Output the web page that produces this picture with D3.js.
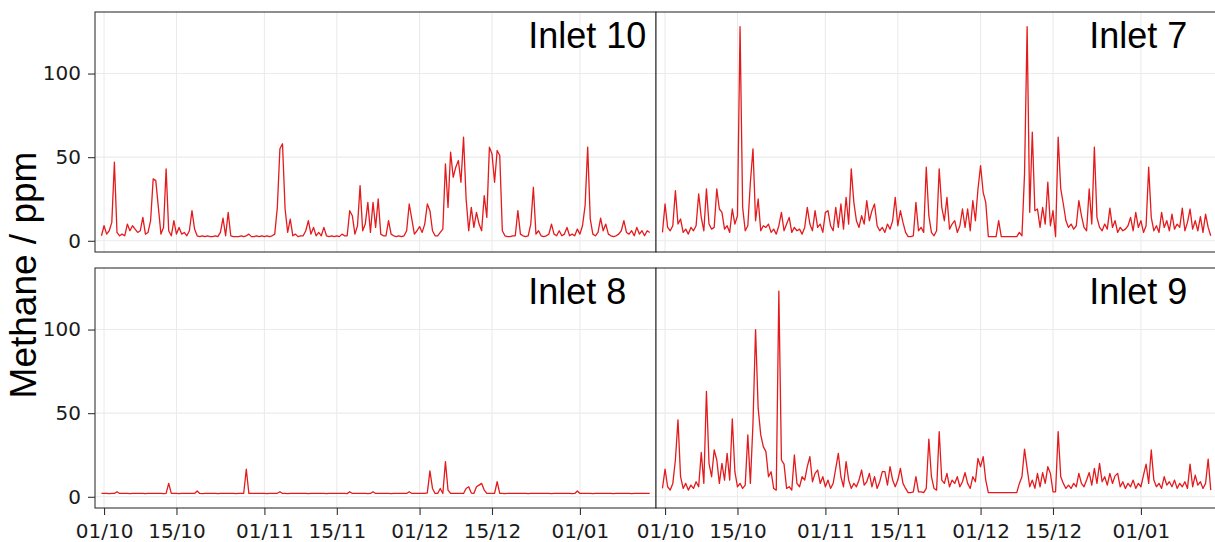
<!DOCTYPE html>
<html>
<head>
<meta charset="utf-8">
<script src="https://cdn.jsdelivr.net/npm/d3@7"></script>
<style>
  body { margin: 0; background: #fff; }
  svg { display: block; }
</style>
</head>
<body>
<div id="chart"></div>
<script>
// readings every 12 h, starting 30/09 12:00
const startTime = Date.UTC(2019, 8, 30, 12)
const stepHours = 12

const inlet10 = [
  3, 9, 4, 6, 11, 47, 5, 3, 4, 3,
  10, 6, 9, 7, 5, 6, 14, 4, 5, 12,
  37, 36, 20, 4, 8, 43, 6, 3, 12, 4,
  8, 4, 5, 3, 6, 18, 7, 3, 2.5, 3,
  2.5, 3, 2.5, 2.5, 3, 2.5, 5, 13.6, 3, 17,
  3, 2.5, 2.5, 2.5, 3, 2.5, 3, 4, 2.5, 2.5,
  3, 2.5, 3, 2.5, 3, 2.5, 3, 4, 20, 55,
  58, 19, 5, 13, 3, 4, 2.5, 3, 3, 6,
  12, 4, 8, 3, 5, 3, 8, 3, 2.5, 3,
  2.5, 3, 2.5, 4, 3, 3, 18, 15, 4, 9,
  33, 6, 10, 23, 5, 23, 8, 25, 4, 3,
  3, 12, 4, 3, 2.5, 3, 2.5, 3, 6, 22,
  13, 4, 6, 8.5, 5, 10, 22, 18, 6, 3,
  3, 5, 7, 46, 20, 53, 38, 44, 48, 35,
  62, 25, 6, 20, 8, 17, 10, 6, 27, 14,
  56, 52, 35, 54, 51, 6, 3, 2.5, 2.5, 3,
  3, 18, 4, 3, 2.5, 3, 10, 32, 4, 6,
  3, 2.5, 3, 4, 10, 4, 3, 6, 3, 4,
  8, 3, 4, 3, 7, 4, 9, 21, 56, 13,
  4, 3, 5, 13.5, 6, 10, 4, 3, 2.5, 3,
  4, 6, 12, 5, 4, 6, 3, 8, 4, 6,
  3, 6, 5
]

const inlet7 = [
  5, 22, 8, 6, 9, 30, 10, 13, 5, 7,
  4, 8, 6, 9, 28, 14, 6, 31, 10, 7,
  8, 31, 19, 17, 7, 9, 5, 19, 10, 15,
  128, 20, 6, 9, 35, 55, 12, 25, 6, 9,
  8, 10, 5, 7, 4, 9, 17, 6, 10, 14,
  5, 8, 6, 7, 4, 8, 20, 10, 6, 18,
  8, 10, 5, 17, 18, 9, 6, 20, 8, 22,
  7, 26, 10, 43, 23, 12, 8, 15, 10, 24,
  12, 18, 22, 9, 6, 8, 5, 10, 7, 12,
  26, 9, 18, 11, 5, 2.5, 2.5, 3, 23, 6,
  8, 5, 44, 15, 5, 3, 6, 43, 20, 12,
  26, 7, 10, 12, 5, 9, 19, 8, 19, 6,
  24, 12, 31, 45, 29, 23, 2.5, 2.5, 2.5, 2.5,
  12, 2.5, 2.5, 2.5, 2.5, 2.5, 2.5, 2.5, 5, 3,
  40, 128, 17, 65, 18, 19, 8, 20, 10, 35,
  9, 18, 2.5, 62, 31, 22, 12, 8, 10, 7,
  9, 24, 15, 8, 6, 31, 10, 56, 14, 8,
  6, 10, 7, 19.5, 8, 12, 5, 8, 6, 7,
  9, 14, 6, 17, 8, 12, 5, 9, 44, 14,
  6, 9, 5, 17, 8, 12, 6, 16, 7, 10,
  8, 19.5, 6, 11, 19, 7, 12, 6, 14.5, 5,
  16, 8, 3
]

const inlet8 = [
  2, 2.1, 2, 1.9, 2, 2, 3, 2, 2.1, 2,
  2, 1.9, 2, 2, 2.1, 2, 2, 1.9, 2, 2,
  2, 2, 2.1, 2, 1.9, 2, 8, 2, 2, 2,
  1.9, 2, 2, 2.1, 2, 2, 2, 3.5, 2, 1.9,
  2, 2, 2.1, 2, 2, 1.9, 2, 2, 2, 2.1,
  2, 2, 1.9, 2, 2, 2.1, 16.5, 2, 2, 2,
  2, 2.1, 2, 2, 1.9, 2, 2, 2, 2.1, 3,
  2, 2, 1.9, 2, 2, 2, 2.1, 2, 2, 2,
  1.9, 2, 2, 2, 2.1, 2, 2, 1.9, 2, 2,
  2, 2.1, 2, 2, 2, 1.9, 3, 2, 2, 2.1,
  2, 2, 2, 1.9, 2, 3, 2, 2, 2.1, 2,
  2, 2, 1.9, 2, 2, 2.1, 2, 2, 2, 3,
  2, 2.1, 2, 2, 2, 2, 2.3, 15.5, 5, 2,
  2, 5, 2, 21, 4, 2, 2.1, 2, 2, 2,
  2, 5, 6, 2.2, 2, 6, 7, 8, 4, 2,
  2, 2, 2.1, 9, 2, 2, 1.9, 2, 2, 2.1,
  2, 2, 2, 2.1, 2, 1.9, 2, 2, 2, 2,
  2.1, 2, 2, 2, 1.9, 2, 2, 2.1, 2, 2,
  2, 2, 1.9, 2, 3.5, 2, 2, 2.1, 2, 2,
  1.9, 2, 2, 2, 2.1, 2, 2, 2, 1.9, 2,
  2, 2.1, 2, 2, 2, 1.9, 2, 2, 2.1, 2,
  2, 2, 2
]

const inlet9 = [
  5, 16.5, 6, 4, 8, 22, 46, 12, 5, 8,
  4, 7, 5, 9, 6, 26.5, 8, 63, 20, 12,
  28, 22, 8, 20, 10, 26, 10, 46.6, 15, 6,
  8, 5, 7, 37, 8, 44, 100, 53, 37, 30,
  27, 12, 15, 5, 4, 123, 22, 19.5, 5, 6,
  4, 25, 8, 6, 12, 10, 18, 24, 9, 14,
  16, 8, 12, 6, 10, 5, 8, 17, 26, 12,
  6, 21, 10, 5, 8, 6, 10, 16, 7, 9,
  14, 6, 12, 5, 9, 15, 15, 7, 18, 10,
  6, 10, 17, 8, 5, 2.5, 2.5, 3, 12, 3,
  3, 2.5, 5, 34.5, 12, 5, 4, 39, 10, 8,
  14, 6, 10, 8, 12, 6, 9, 14.5, 8, 5,
  12, 9, 23, 18, 24, 10, 2.5, 2.5, 2.5, 2.5,
  2.5, 2.5, 2.5, 2.5, 2.5, 2.5, 2.5, 2.5, 8, 12,
  28.5, 17, 6, 10, 5, 14, 6, 14.5, 8, 18,
  14, 3, 3, 39, 12, 8, 5, 7, 5, 8,
  6, 14, 8, 6, 10, 14.5, 7, 17, 8, 20,
  9, 12, 7, 14, 8, 12.5, 14, 6, 9, 5,
  8, 6, 10, 5, 8, 6, 13, 19.5, 8, 28,
  10, 6, 8, 5, 12, 7, 9, 6, 10, 5,
  8, 6, 9, 5, 19.5, 6, 13, 7, 9, 5,
  8, 22.5, 4
]

const panelNames = ["Inlet 10", "Inlet 7", "Inlet 8", "Inlet 9"]
const panelSeries = [inlet10, inlet7, inlet8, inlet9]
const tickDates = ["2019-10-01", "2019-10-15", "2019-11-01", "2019-11-15", "2019-12-01", "2019-12-15", "2020-01-01"]
const yTicks = [0, 50, 100]
const yTitle = "Methane / ppm"

const width = 1215
const height = 542
const panelW = 561
const panelH = 240
const left = 95
const tops = [12, 268]

const x = d3.scaleUtc()
    .domain([Date.UTC(2019, 8, 29, 6), Date.UTC(2020, 0, 15, 17)])
    .range([0, panelW])
const y = d3.scaleLinear()
    .domain([-6.7, 136.8])
    .range([panelH, 0])

const fmt = d3.utcFormat("%d/%m")
const ticks = tickDates.map(d => d3.utcParse("%Y-%m-%d")(d))

const svg = d3.select("#chart").append("svg")
    .attr("width", width)
    .attr("height", height)
    .attr("viewBox", [0, 0, width, height])

svg.append("defs").append("clipPath")
    .attr("id", "clip")
    .append("rect")
    .attr("width", panelW)
    .attr("height", panelH)

const line = d3.line()
    .x((d, i) => x(new Date(startTime + i * stepHours * 3600 * 1000)))
    .y(d => y(d))

panelSeries.forEach((values, k) => {
    const col = k % 2
    const row = Math.floor(k / 2)
    const g = svg.append("g")
        .attr("transform", `translate(${left + col * panelW},${tops[row]})`)

    g.append("rect")
        .attr("width", panelW)
        .attr("height", panelH)
        .attr("fill", "white")

    // grid lines
    g.append("g")
        .selectAll("line")
        .data(ticks)
        .join("line")
        .attr("x1", d => x(d)).attr("x2", d => x(d))
        .attr("y1", 0).attr("y2", panelH)
        .attr("stroke", "#ebebeb")
        .attr("stroke-width", 1.1)
    g.append("g")
        .selectAll("line")
        .data(yTicks)
        .join("line")
        .attr("x1", 0).attr("x2", panelW)
        .attr("y1", d => y(d)).attr("y2", d => y(d))
        .attr("stroke", "#ebebeb")
        .attr("stroke-width", 1.1)

    g.append("path")
        .datum(values)
        .attr("clip-path", "url(#clip)")
        .attr("fill", "none")
        .attr("stroke", "#e41a1c")
        .attr("stroke-width", 1.3)
        .attr("stroke-linejoin", "round")
        .attr("d", line)

    g.append("text")
        .attr("x", x(new Date(Date.UTC(2019, 11, 22, 0))))
        .attr("y", 36)
        .attr("font-family", "'Liberation Sans', Arial, sans-serif")
        .attr("font-size", 36)
        .attr("fill", "#000")
        .text(panelNames[k])

    g.append("rect")
        .attr("width", panelW)
        .attr("height", panelH)
        .attr("fill", "none")
        .attr("stroke", "#333333")
        .attr("stroke-width", 1.1)

    if (col === 0) {
        const ax = g.append("g")
            .call(d3.axisLeft(y).tickValues(yTicks).tickSize(7).tickPadding(7))
        ax.select(".domain").remove()
        ax.selectAll("line").attr("stroke", "#333333").attr("stroke-width", 1.1)
        ax.selectAll("text")
            .attr("font-family", "'DejaVu Sans', sans-serif")
            .attr("font-size", 20)
            .attr("fill", "#1a1a1a")
    }
    if (row === 1) {
        const ax = g.append("g")
            .attr("transform", `translate(0,${panelH})`)
            .call(d3.axisBottom(x).tickValues(ticks).tickFormat(fmt).tickSize(7).tickPadding(8.5))
        ax.select(".domain").remove()
        ax.selectAll("line").attr("stroke", "#333333").attr("stroke-width", 1.1)
        ax.selectAll("text")
            .attr("font-family", "'DejaVu Sans', sans-serif")
            .attr("font-size", 20)
            .attr("fill", "#1a1a1a")
    }
})

svg.append("text")
    .attr("transform", "translate(36,275) rotate(-90)")
    .attr("text-anchor", "middle")
    .attr("font-family", "'Liberation Sans', Arial, sans-serif")
    .attr("font-size", 37)
    .attr("fill", "#000")
    .text(yTitle)
</script>
</body>
</html>
